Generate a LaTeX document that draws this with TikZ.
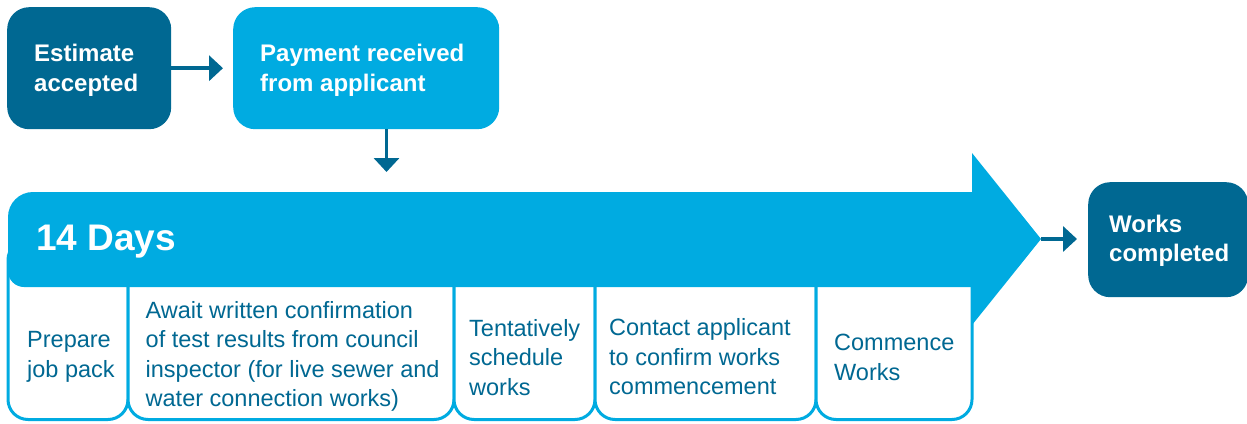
\documentclass[tikz,border=0pt]{standalone}
\usepackage{fontspec}
\setmainfont{Liberation Sans}
\usetikzlibrary{arrows.meta}
\definecolor{darkblue}{RGB}{0,104,146}
\definecolor{lightblue}{RGB}{0,171,225}
\begin{document}
\begin{tikzpicture}[x=1pt,y=-1pt,
  headbox/.style={rounded corners=22pt, anchor=north west, inner sep=0pt},
  headtext/.style={anchor=west, inner sep=0pt, align=left, text=white, font=\fontsize{24}{29.5}\selectfont\bfseries},
  stepbox/.style={draw=lightblue, line width=3pt, fill=white, rounded corners=20pt},
  steptext/.style={anchor=west, inner sep=0pt, align=left, text=darkblue, font=\fontsize{23.5}{29.5}\selectfont},
  conn/.style={draw=darkblue, line width=3.5pt, -{Triangle[length=14pt,width=25pt]}}]
\useasboundingbox (0,0) rectangle (1247,423);

% top boxes
\node[headbox, fill=darkblue, minimum width=164pt, minimum height=122pt] (est) at (7,7) {};
\node[headbox, fill=lightblue, minimum width=266pt, minimum height=122pt] (pay) at (233,7) {};
\node[headbox, fill=darkblue, minimum width=160pt, minimum height=115pt] (works) at (1088,182) {};

\node[headtext] (estT) at (34,70.5) {Estimate\\accepted};
\node[headtext] (payT) at (260,70.5) {Payment received\\from applicant};
\node[headtext] (worksT) at (1109,241) {Works\\completed};

% step boxes
\draw[stepbox] (8,240) rectangle (128,419.5);
\draw[stepbox] (128,240) rectangle (454,419.5);
\draw[stepbox] (454,240) rectangle (595,419.5);
\draw[stepbox] (595,240) rectangle (816,419.5);
\draw[stepbox] (816,240) rectangle (972,419.5);

% big arrow band
\fill[lightblue] (8,271) -- (8,217) arc[start angle=180, end angle=270, radius=25]
  -- (972,192) -- (972,153) -- (1041,239) -- (972,325) -- (972,287)
  -- (24,287) arc[start angle=90, end angle=180, radius=16] -- cycle;
\coordinate (tip) at (1041,239);
\node[anchor=west, inner sep=0pt, text=white, font=\fontsize{37}{40}\selectfont\bfseries] (days) at (36,241.5) {14 Days};

\node[steptext] (s1) at (27,357) {Prepare\\job pack};
\node[steptext] (s2) at (145.5,356.5) {Await written confirmation\\of test results from council\\inspector (for live sewer and\\water connection works)};
\node[steptext] (s3) at (469,357.5) {Tentatively\\schedule\\works};
\node[steptext] (s4) at (609,357) {Contact applicant\\to confirm works\\commencement};
\node[steptext] (s5) at (834,357.5) {Commence\\Works};

% connectors
\coordinate (d) at (386.5,172);
\draw[conn, shorten >=10pt] (est.east) -- (pay.west);
\draw[conn] (pay.south -| d) -- (d);
\draw[conn, shorten >=11pt] (tip) -- (works.west |- tip);
\end{tikzpicture}
\end{document}
